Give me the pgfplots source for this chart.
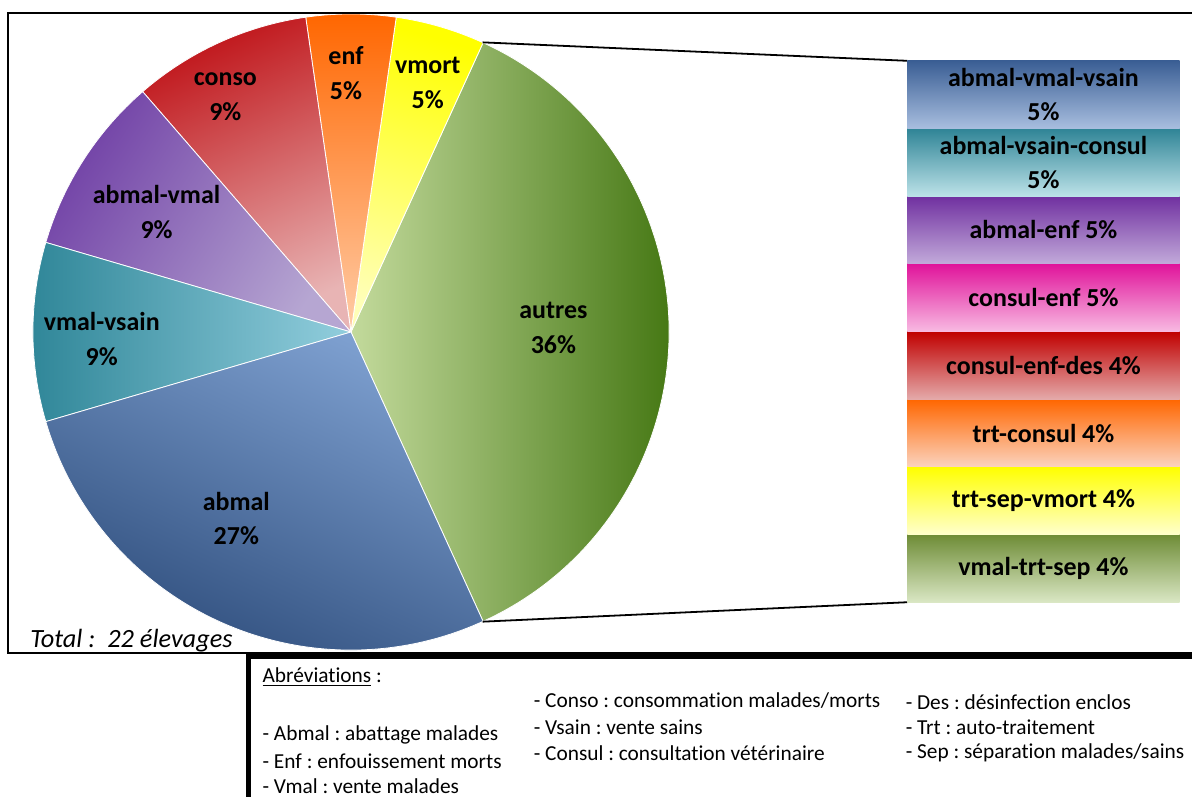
\documentclass[border=0pt]{standalone}
\usepackage{fontspec}
\setmainfont{Carlito}[Ligatures={NoCommon}]
\usepackage{pgfplots}
\pgfplotsset{compat=1.18}
\frenchspacing

% slice colours (dark = rim, light = centre)
\definecolor{autD}{HTML}{356B02}\definecolor{autL}{HTML}{C3DA9C}
\definecolor{vmoD}{HTML}{FFFF00}\definecolor{vmoL}{HTML}{FFFFB8}
\definecolor{enfD}{HTML}{FF6600}\definecolor{enfL}{HTML}{FFCDA8}
\definecolor{conD}{HTML}{C0161B}\definecolor{conL}{HTML}{E8B4B4}
\definecolor{avmD}{HTML}{7141A6}\definecolor{avmL}{HTML}{B6A6D2}
\definecolor{vvsD}{HTML}{2F8698}\definecolor{vvsL}{HTML}{92CEDD}
\definecolor{abmD}{HTML}{2E4D7C}\definecolor{abmL}{HTML}{7EA0D0}
% bar colours (top, bottom)
\definecolor{b1T}{HTML}{3A5E94}\definecolor{b1B}{HTML}{A8BEDF}
\definecolor{b2T}{HTML}{2F8496}\definecolor{b2B}{HTML}{BCE2E8}
\definecolor{b3T}{HTML}{7030A0}\definecolor{b3B}{HTML}{C2AADA}
\definecolor{b4T}{HTML}{E0139A}\definecolor{b4B}{HTML}{F8BAE2}
\definecolor{b5T}{HTML}{C00000}\definecolor{b5B}{HTML}{E4AAAA}
\definecolor{b6T}{HTML}{FF6600}\definecolor{b6B}{HTML}{FBD3BE}
\definecolor{b7T}{HTML}{FFFF00}\definecolor{b7B}{HTML}{FFFFCC}
\definecolor{b8T}{HTML}{6E8C36}\definecolor{b8B}{HTML}{DAE7C4}

\newcommand\R{159.5pt}
% #1 = cumulative count before the slice, #2 = count, #3 dark, #4 light (total 22, "autres"=8 centred at 0 deg)
\newcommand\slice[4]{%
  \pgfmathsetmacro\sa{-180*8/22+360*#1/22}%
  \pgfmathsetmacro\ea{\sa+360*#2/22}%
  \pgfmathsetmacro\sh{(\sa+\ea)/2-90}%
  \edef\doit{\noexpand\path[draw=white, line width=0.4pt, top color=#3, bottom color=#4, shading angle=\sh]
    (axis cs:352,466) -- ++(\sa:\R) arc[start angle=\sa, end angle=\ea, radius=\R] -- cycle;}%
  \doit}

\begin{document}
\begin{tikzpicture}
\begin{axis}[x=0.5pt, y=0.5pt, xmin=0, xmax=1195, ymin=0, ymax=799,
  hide axis, clip=false]
\path (axis cs:0,0) rectangle (axis cs:1195,799);
% pie : counts out of 22 elevages
\slice{0}{8}{autD}{autL}   % autres
\slice{8}{1}{vmoD}{vmoL}   % vmort
\slice{9}{1}{enfD}{enfL}   % enf
\slice{10}{2}{conD}{conL}  % conso
\slice{12}{2}{avmD}{avmL}  % abmal-vmal
\slice{14}{2}{vvsD}{vvsL}  % vmal-vsain
\slice{16}{6}{abmD}{abmL}  % abmal
% connector lines
\draw[black, line width=0.9pt] (axis cs:484,756.5) -- (axis cs:910,738);
\draw[black, line width=0.9pt] (axis cs:484,175.5) -- (axis cs:910,195);
% frame
\draw[black, line width=1pt] (axis cs:1195,786) -- (axis cs:8,786) -- (axis cs:8,144) -- (axis cs:247,144);
\draw[black, line width=3.5pt] (axis cs:247,141.5) -- (axis cs:1195,141.5);
\draw[black, line width=2.5pt] (axis cs:249.5,0) -- (axis cs:249.5,144);
% pie labels
\begin{scope}[every node/.style={font=\fontsize{13}{17.5}\selectfont\bfseries, align=center, inner sep=0pt}]
\node at (axis cs:555,470) {autres\\36\%};
\node at (axis cs:237,279) {abmal\\27\%};
\node at (axis cs:102,459) {vmal-vsain\\9\%};
\node at (axis cs:157,586) {abmal-vmal\\9\%};
\node at (axis cs:226,702) {conso\\9\%};
\node at (axis cs:347,726) {enf\\5\%};
\node at (axis cs:429,716) {vmort\\5\%};
\end{scope}
\node[anchor=west, inner sep=0pt, font=\fontsize{13.2}{15}\selectfont\itshape] at (axis cs:30,157) {Total :~~22 élevages};
% abbreviations
\begin{scope}[every node/.style={anchor=west, inner sep=0pt, font=\fontsize{10.7}{12}\selectfont}]
\node at (axis cs:263,120) {\underline{Abréviations} :};
\node at (axis cs:263,62) {- Abmal : abattage malades};
\node at (axis cs:263,36) {- Enf : enfouissement morts};
\node at (axis cs:263,11) {- Vmal : vente malades};
\node at (axis cs:535,96) {- Conso : consommation malades/morts};
\node at (axis cs:535,70) {- Vsain : vente sains};
\node at (axis cs:535,44) {- Consul : consultation vétérinaire};
\node at (axis cs:908,95) {- Des : désinfection enclos};
\node at (axis cs:908,70) {- Trt : auto-traitement};
\node at (axis cs:908,44) {- Sep : séparation malades/sains};
\end{scope}
\end{axis}

% bar of pie: the 8 "autres" combinations, 1 elevage each (segments 0..8)
\begin{axis}[at={(455pt,97.5pt)}, anchor=south west, scale only axis,
  width=136.5pt, height=271.5pt, xmin=0, xmax=1, ymin=0, ymax=8,
  hide axis, clip=false]
\addplot[draw=none, top color=b8T, bottom color=b8B] coordinates {(0,0) (1,0) (1,1) (0,1)} -- cycle; % vmal-trt-sep
\addplot[draw=none, top color=b7T, bottom color=b7B] coordinates {(0,1) (1,1) (1,2) (0,2)} -- cycle; % trt-sep-vmort
\addplot[draw=none, top color=b6T, bottom color=b6B] coordinates {(0,2) (1,2) (1,3) (0,3)} -- cycle; % trt-consul
\addplot[draw=none, top color=b5T, bottom color=b5B] coordinates {(0,3) (1,3) (1,4) (0,4)} -- cycle; % consul-enf-des
\addplot[draw=none, top color=b4T, bottom color=b4B] coordinates {(0,4) (1,4) (1,5) (0,5)} -- cycle; % consul-enf
\addplot[draw=none, top color=b3T, bottom color=b3B] coordinates {(0,5) (1,5) (1,6) (0,6)} -- cycle; % abmal-enf
\addplot[draw=none, top color=b2T, bottom color=b2B] coordinates {(0,6) (1,6) (1,7) (0,7)} -- cycle; % abmal-vsain-consul
\addplot[draw=none, top color=b1T, bottom color=b1B] coordinates {(0,7) (1,7) (1,8) (0,8)} -- cycle; % abmal-vmal-vsain
\begin{scope}[every node/.style={font=\fontsize{13}{17}\selectfont\bfseries, align=center, inner sep=0pt}]
\node at (axis cs:0.5,7.5) {abmal-vmal-vsain\\5\%};
\node at (axis cs:0.5,6.5) {abmal-vsain-consul\\5\%};
\node at (axis cs:0.5,5.5) {abmal-enf 5\%};
\node at (axis cs:0.5,4.5) {consul-enf 5\%};
\node at (axis cs:0.5,3.5) {consul-enf-des 4\%};
\node at (axis cs:0.5,2.5) {trt-consul 4\%};
\node at (axis cs:0.5,1.5) {trt-sep-vmort 4\%};
\node at (axis cs:0.5,0.5) {vmal-trt-sep 4\%};
\end{scope}
\end{axis}
\end{tikzpicture}
\end{document}
